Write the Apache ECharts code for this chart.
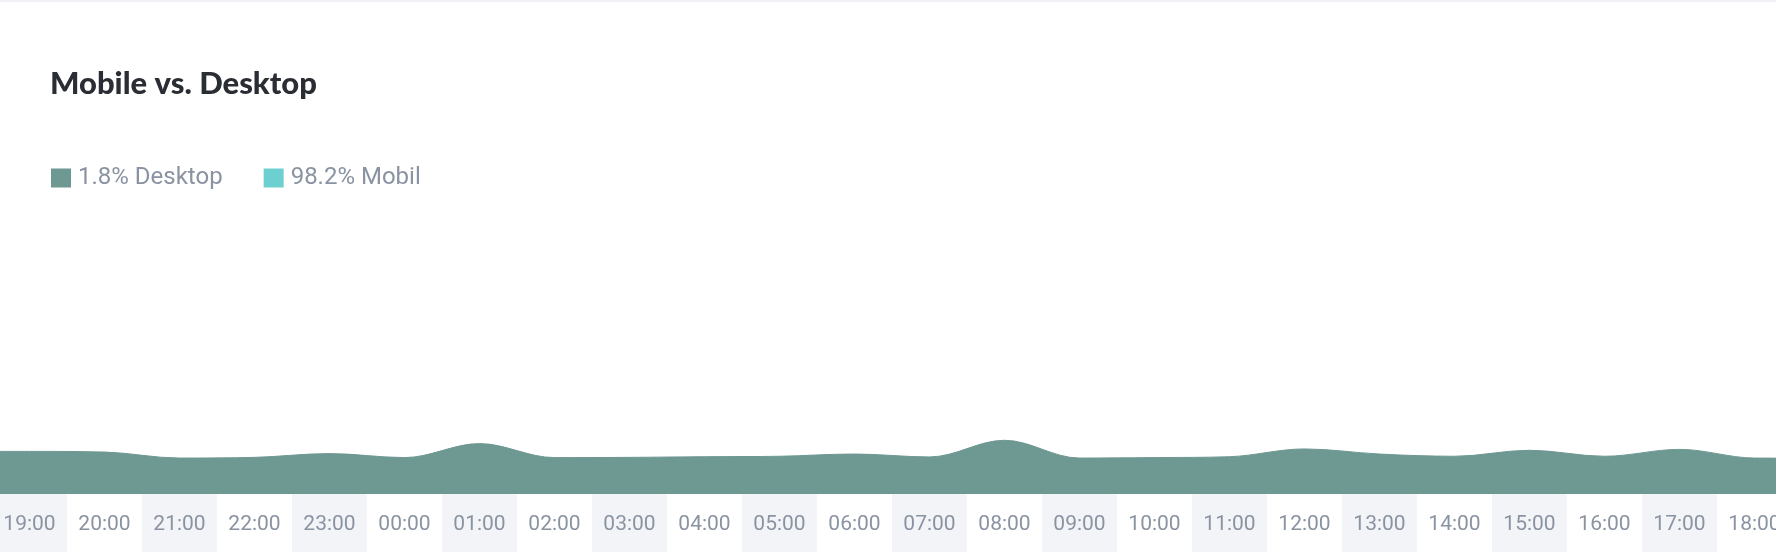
<!DOCTYPE html>
<html>
<head>
<meta charset="utf-8">
<script src="https://cdn.jsdelivr.net/npm/echarts@6/dist/echarts.min.js"></script>
<style>
  html, body { margin: 0; padding: 0; background: #ffffff; overflow: hidden; width: 1776px; height: 552px; position: relative; }
  #chart { position: absolute; left: -8px; top: 0; width: 1800px; height: 552px; }
</style>
</head>
<body>
<div id="chart"></div>
<script>
// Hour categories (x axis tick labels)
const hours = ['19:00','20:00','21:00','22:00','23:00','00:00','01:00','02:00','03:00','04:00','05:00','06:00',
               '07:00','08:00','09:00','10:00','11:00','12:00','13:00','14:00','15:00','16:00','17:00','18:00'];
// Desktop share per hour (%)
const desktop = [1.92, 1.89, 1.62, 1.65, 1.82, 1.64, 2.27, 1.64, 1.65, 1.68, 1.70, 1.80,
                 1.67, 2.42, 1.62, 1.64, 1.68, 2.03, 1.80, 1.70, 1.97, 1.70, 2.01, 1.62];
// Values where the area meets the left and right edges of the picture
const desktopEdges = [1.92, 1.61];
// Mobile series (only shown in the legend)
const mobile = [];
// Legend labels
const seriesNames = ['1.8% Desktop', '98.2% Mobil'];

const desktopPoints = [[-1, desktopEdges[0]]]
  .concat(desktop.map((v, i) => [i, v]))
  .concat([[hours.length, desktopEdges[1]]]);

const chart = echarts.init(document.getElementById('chart'), null, { renderer: 'canvas' });
chart.setOption({
  animation: false,
  backgroundColor: '#ffffff',
  title: {
    text: 'Mobile vs. Desktop',
    left: 58, top: 68, padding: 0,
    textStyle: { fontFamily: 'Lato', fontWeight: 900, fontSize: 31, color: '#2a2d33' }
  },
  legend: {
    left: 59, top: 166, padding: 0,
    icon: 'rect', itemWidth: 20, itemHeight: 19, itemGap: 41,
    data: seriesNames,
    textStyle: { fontFamily: 'Roboto', fontSize: 24, color: '#8a93a1', padding: [0, 0, 0, 2] }
  },
  graphic: [{ type: 'rect', shape: { x: 0, y: 0, width: 1800, height: 2 }, style: { fill: '#f1f2f6' } }],
  grid: [
    { left: 0, right: 0, top: 272, bottom: 58 },
    { left: 0, right: 0, top: 494, bottom: 0 }
  ],
  xAxis: [
    { // bands under the plot
      gridIndex: 1, type: 'category', data: hours, boundaryGap: true,
      axisLine: { show: false }, axisTick: { show: false }, axisLabel: { show: false },
      splitLine: { show: false },
      splitArea: { show: true, areaStyle: { color: ['#f3f4f8', '#ffffff'] } }
    },
    { // labels
      gridIndex: 0, type: 'category', data: hours, boundaryGap: true, z: 5,
      axisLine: { show: false }, axisTick: { show: false },
      axisLabel: { interval: 0, margin: 20, fontFamily: 'Roboto', fontSize: 21, color: '#8a93a1' },
      splitLine: { show: false }
    },
    { // value scale for the area
      gridIndex: 0, type: 'value', min: -0.5, max: hours.length - 0.5, show: false
    }
  ],
  yAxis: [
    { gridIndex: 0, type: 'value', min: 0, max: 10, show: false },
    { gridIndex: 1, type: 'value', show: false }
  ],
  series: [
    {
      name: seriesNames[0], type: 'line', xAxisIndex: 2, yAxisIndex: 0,
      data: desktopPoints, smooth: 0.35, symbol: 'none', clip: true,
      itemStyle: { color: '#6e9892' },
      lineStyle: { width: 1, color: '#6e9892' },
      areaStyle: { color: '#6e9892', opacity: 1 }
    },
    {
      name: seriesNames[1], type: 'line', xAxisIndex: 2, yAxisIndex: 0,
      data: mobile, symbol: 'none',
      itemStyle: { color: '#6dd0d0' },
      lineStyle: { color: '#6dd0d0' }
    }
  ]
});
</script>
</body>
</html>
